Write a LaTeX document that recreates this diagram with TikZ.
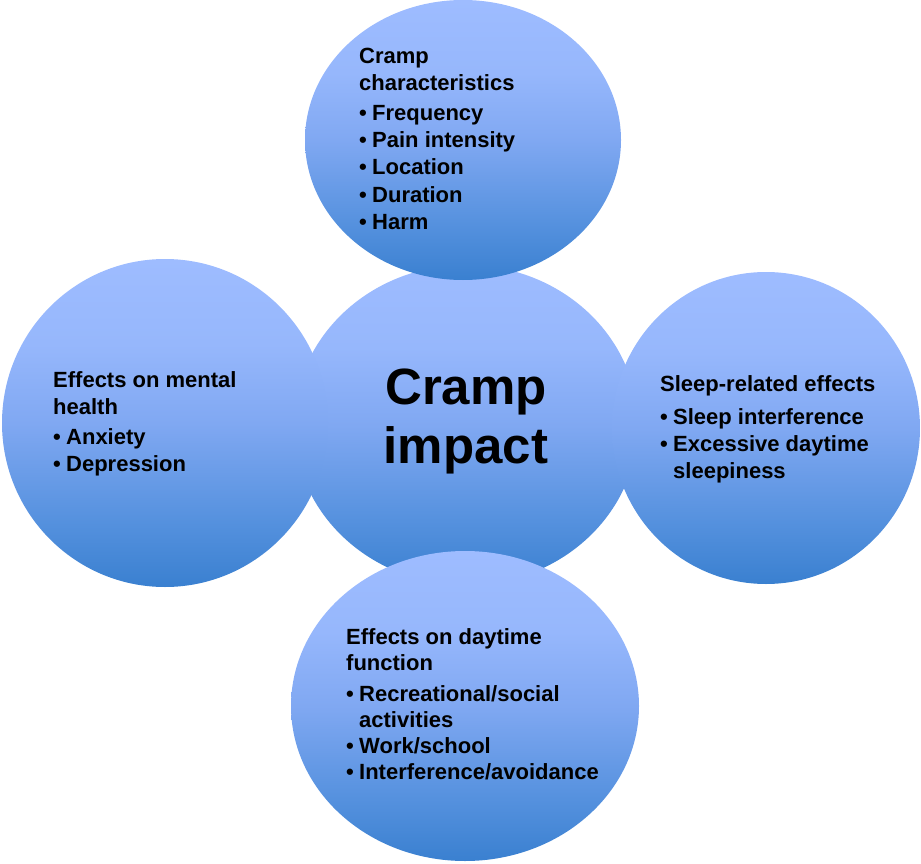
\documentclass[tikz,border=0pt]{standalone}
\usepackage{fontspec}
\setmainfont{Liberation Sans}
\usetikzlibrary{shapes.geometric}
\definecolor{bdark}{RGB}{58,128,208}
\definecolor{bmidlow}{RGB}{85,145,222}
\definecolor{bmid}{RGB}{128,168,242}
\definecolor{bmidhigh}{RGB}{150,183,252}
\definecolor{blight}{RGB}{158,188,255}
\pgfdeclareverticalshading{bub}{100bp}{color(0bp)=(bdark); color(25bp)=(bdark); color(35bp)=(bmidlow); color(50bp)=(bmid); color(62bp)=(bmidhigh); color(75bp)=(blight); color(100bp)=(blight)}
\tikzset{
  bubble/.style={ellipse, shading=bub, draw=none, inner sep=0pt},
  txt/.style={anchor=base west, inner sep=0pt, font=\fontsize{22}{26}\selectfont\bfseries, text=black},
  big/.style={anchor=base, inner sep=0pt, font=\fontsize{51}{60}\selectfont\bfseries, text=black}
}
\newcommand{\bul}{\makebox[13pt][l]{\textbullet}}
\begin{document}
\begin{tikzpicture}[x=1pt,y=-1pt]
\useasboundingbox (0,0) rectangle (921,864);
% shapes
\node[bubble, minimum width=344pt, minimum height=320pt] (center) at (466,425) {};
\node[bubble, minimum width=316pt, minimum height=280pt] (top) at (463,140) {};
\node[bubble, minimum width=326pt, minimum height=328pt] (left) at (165,423) {};
\node[bubble, minimum width=308pt, minimum height=312pt] (right) at (766,428) {};
\node[bubble, minimum width=348pt, minimum height=310pt] (bottom) at (465,706) {};
% center text
\node[big] (c1) at (466,404) {Cramp};
\node[big] (c2) at (466,463) {impact};
% top text
\node[txt] (t1) at (359,64) {Cramp};
\node[txt] (t2) at (359,91) {characteristics};
\node[txt] (t3) at (359,121) {\bul Frequency};
\node[txt] (t4) at (359,148) {\bul Pain intensity};
\node[txt] (t5) at (359,175) {\bul Location};
\node[txt] (t6) at (359,202) {\bul Duration};
\node[txt] (t7) at (359,229) {\bul Harm};
% left text
\node[txt] (l1) at (53,387) {Effects on mental};
\node[txt] (l2) at (53,414) {health};
\node[txt] (l3) at (53,444) {\bul Anxiety};
\node[txt] (l4) at (53,471) {\bul Depression};
% right text
\node[txt] (r1) at (660,391) {Sleep-related effects};
\node[txt] (r2) at (660,424) {\bul Sleep interference};
\node[txt] (r3) at (660,451) {\bul Excessive daytime};
\node[txt] (r4) at (660,478) {\hspace*{13pt}sleepiness};
% bottom text
\node[txt] (b1) at (346,644) {Effects on daytime};
\node[txt] (b2) at (346,670) {function};
\node[txt] (b3) at (346,701) {\bul Recreational/social};
\node[txt] (b4) at (346,727) {\hspace*{13pt}activities};
\node[txt] (b5) at (346,753) {\bul Work/school};
\node[txt] (b6) at (346,779) {\bul Interference/avoidance};
\end{tikzpicture}
\end{document}
